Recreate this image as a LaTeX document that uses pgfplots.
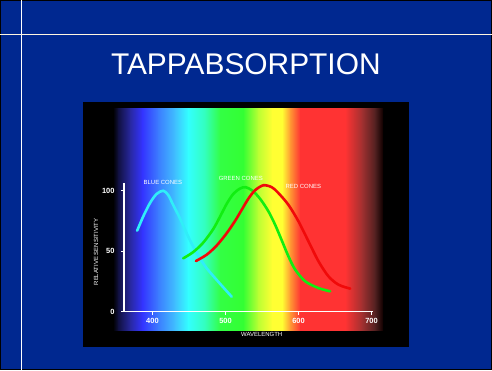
\documentclass[border=0pt]{standalone}
\usepackage{fontspec}
\setmainfont{Liberation Sans}
\usepackage{pgfplots}
\pgfplotsset{compat=1.18}
\definecolor{navy}{HTML}{002890}
\definecolor{cream}{HTML}{FFF6E0}
\definecolor{cblue}{HTML}{30EEF8}
\definecolor{cgreen}{HTML}{11EE11}
\definecolor{cred}{HTML}{F00A0A}
\definecolor{s0}{HTML}{000000}
\definecolor{s1}{HTML}{101040}
\definecolor{s2}{HTML}{2828A0}
\definecolor{s3}{HTML}{3333FF}
\definecolor{s4}{HTML}{3C7CFF}
\definecolor{s5}{HTML}{40C0FF}
\definecolor{s6}{HTML}{33FFFF}
\definecolor{s7}{HTML}{33FFBB}
\definecolor{s8}{HTML}{33FF44}
\definecolor{s9}{HTML}{33FF33}
\definecolor{s10}{HTML}{BBFF33}
\definecolor{s11}{HTML}{FFFF33}
\definecolor{s12}{HTML}{FFFF33}
\definecolor{s13}{HTML}{FF9933}
\definecolor{s14}{HTML}{FF3333}
\definecolor{s15}{HTML}{FF3333}
\definecolor{s16}{HTML}{A03030}
\definecolor{s17}{HTML}{502020}
\definecolor{s18}{HTML}{100000}
\begin{document}
\begin{tikzpicture}[x=1bp,y=1bp]
\useasboundingbox (0,0) rectangle (492,370);
\fill[navy] (0,0) rectangle (492,370);
\draw[black,line width=1bp] (0.5,0.5) rectangle (491.5,369.5);
\draw[white,line width=1bp] (21,0.5) -- (21,369.5);
\draw[cream,line width=1bp] (0.5,336) -- (491.5,336);
\fill[black] (83,23) rectangle (409,268);
% spectrum bands
\def\band#1#2#3#4{\shade[left color=#3,right color=#4] (#1,40) rectangle (#2,262);}
\band{113}{118.5}{s0}{s1}
\band{118}{130.5}{s1}{s2}
\band{130}{142.5}{s2}{s3}
\band{142}{158.5}{s3}{s4}
\band{158}{175.5}{s4}{s5}
\band{175}{188.5}{s5}{s6}
\band{188}{205.5}{s6}{s7}
\band{205}{220.5}{s7}{s8}
\band{220}{243.5}{s8}{s9}
\band{243}{258.5}{s9}{s10}
\band{258}{272.5}{s10}{s11}
\band{272}{282.5}{s11}{s12}
\band{282}{290.5}{s12}{s13}
\band{290}{300.5}{s13}{s14}
\band{300}{345.5}{s14}{s15}
\band{345}{362.5}{s15}{s16}
\band{362}{375.5}{s16}{s17}
\band{375}{383}{s17}{s18}
\node[white,font=\fontsize{30}{30}\selectfont] at (245.8,305.8) {TAPPABSORPTION};
\begin{axis}[
  at={(124bp,58.3bp)}, anchor=south west,
  scale only axis, width=249bp, height=128.7bp,
  xmin=361, xmax=702, ymin=0, ymax=106.6,
  axis x line*=bottom, axis y line*=left,
  axis line style={white,line width=1.2bp},
  xtick={400,500,600,700}, ytick={0,50,100},
  tick style={white,line width=1bp}, tick align=outside, major tick length=3bp,
  ticklabel style={white,font=\bfseries\fontsize{7.5}{8}\selectfont},
  /pgf/number format/assume math mode=true,
  yticklabel style={xshift=-3bp},
  clip=false,
  xlabel={WAVELENGTH}, ylabel={RELATIVE SENSITIVITY},
  xlabel style={white,font=\fontsize{6}{7}\selectfont,at={(axis description cs:0.553,-0.173)},anchor=center},
  ylabel style={white,font=\fontsize{6}{7}\selectfont,at={(axis description cs:-0.112,0.464)},anchor=center,rotate=0},
]
\addplot[cblue,line width=2.6bp,smooth,line cap=round] coordinates {
(379.0,67.1) (387.2,78.7) (396.4,89.8) (405.6,97.5) (414.7,100.2) (421.5,96.7)
(428.4,88.4) (437.6,77.4) (446.8,65.0) (455.8,53.9) (465.0,44.2) (474.2,36.0)
(487.9,26.3) (508.5,12.4)};
\addplot[cgreen,line width=2.6bp,smooth,line cap=round] coordinates {
(442.1,44.2) (455.8,49.4) (469.5,57.2) (483.3,68.5) (492.5,78.7) (501.6,89.3)
(510.7,97.6) (519.9,102.0) (527.5,103.1) (537.5,100.0) (548.0,93.0) (558.7,83.2)
(567.9,72.1) (577.1,59.0) (586.1,46.0) (595.3,35.0) (609.1,25.2) (627.3,19.6)
(643.3,16.9)};
\addplot[cred,line width=2.6bp,smooth,line cap=round] coordinates {
(459.5,42.0) (474.2,47.2) (487.9,54.8) (501.6,65.0) (513.1,75.2) (522.2,84.4)
(531.3,93.6) (540.5,100.6) (551.9,104.7) (563.4,103.1) (572.4,98.3) (586.1,88.6)
(599.9,74.9) (613.6,58.3) (627.3,41.8) (641.0,29.3) (654.7,22.4) (670.8,19.1)};
\node[white,font=\fontsize{6}{7}\selectfont] at (axis cs:414.3,106.9) {BLUE CONES};
\node[white,font=\fontsize{6}{7}\selectfont] at (axis cs:521,110.5) {GREEN CONES};
\node[white,font=\fontsize{6}{7}\selectfont] at (axis cs:606.7,103.6) {RED CONES};
\end{axis}
\end{tikzpicture}
\end{document}
